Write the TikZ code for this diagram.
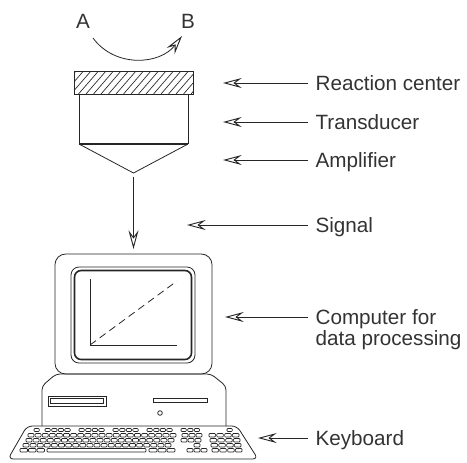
\documentclass[tikz,border=0pt]{standalone}
\usepackage{fontspec}
\setmainfont{Liberation Sans}
\usetikzlibrary{arrows.meta,positioning}

\tikzset{
  ln/.style={line width=0.6pt, draw=black!85},
  arr/.style={ln, -{Stealth[open,length=14pt,width=7.5pt,inset=5pt,line width=0.7pt]}},
  lbl/.style={anchor=west, inner xsep=5.5pt, inner ysep=0pt, text height=10.7pt, text depth=0pt, text=black!80, font=\fontsize{15.5}{18}\selectfont},
  keyst/.style={line width=0.5pt, draw=black!85, rounded corners=0.7pt}
}

\begin{document}
\begin{tikzpicture}[x=0.75pt,y=-0.75pt]
\useasboundingbox (0,0) rectangle (467,462);

% reaction A -> B
\node[lbl, anchor=center, inner xsep=0pt] (A) at (83,21) {A};
\node[lbl, anchor=center, inner xsep=0pt] (B) at (188,21) {B};
\coordinate (arcA) at (93,38);
\coordinate (arcB) at (182,36);
\draw[arr] (arcA) .. controls (115,68) and (160,65) .. (arcB);

% sensor
\begin{scope}
\clip (74,71) rectangle (193,94);
\foreach \x in {56,63.5,...,200}
  \draw[line width=0.5pt, black!85] (\x,94) -- ++(20,-23);
\end{scope}
\draw[ln] (74,71) rectangle (193,94);
\draw[ln] (79,94) -- (79,144);
\draw[ln] (188,94) -- (188,144);
\draw[ln, line width=1.3pt] (79,144) -- (188,144);
\draw[ln] (79,144) -- (133.5,173) -- (188,144);

\coordinate (apex) at (133.5,177);
\coordinate (montop) at (133.5,249);
\draw[arr] (apex) -- (montop);

% monitor
\draw[ln, rounded corners=8] (55,254) rectangle (212,374);
\draw[ln, rounded corners=6] (71,267) rectangle (195,363);
\draw[ln, line width=1.2pt, rounded corners=5] (74.5,270.5) rectangle (191.5,359.5);
\draw[ln] (90,279) -- (90,345) -- (177,345);
\draw[ln, dash pattern=on 5.5pt off 3.5pt] (90,345) -- (177,281);

% base unit
\draw[ln, rounded corners=3] (42,426) -- (42,386) -- (56,374) -- (211,374) -- (226,386) -- (226,426);
\draw[ln] (48,396) rectangle (106,406);
\draw[ln, line width=1pt] (50.5,398.5) rectangle (103.5,403.5);
\draw[ln] (153,398.5) rectangle (207,402.5);
\draw[ln] (160,413) circle (2.3);

% keyboard
\draw[ln, rounded corners=4] (8,459) -- (27,426) -- (237,426) -- (258,459) -- cycle;
\foreach \x/\n in {34/1, 45/4, 79/4, 113/4, 147/4, 181/3, 227/1}
  \foreach \k in {1,...,\n}
    \draw[keyst] ({\x+(\k-1)*6.6},428.5) rectangle ++(5.4,3);
\foreach \y/\x in {433.5/28, 438.5/26, 443.5/23}
  \foreach \k in {0,...,20}
    \draw[keyst] ({\x+\k*7.1},\y) rectangle ++(6,3.5);
\foreach \y/\x in {433.5/182, 438.5/181}
  \foreach \k in {0,1,2}
    \draw[keyst] ({\x+\k*7},\y) rectangle ++(6,3.5);
\foreach \y/\x in {433.5/209, 438.5/210, 443.5/211, 448.5/212}
  \foreach \k in {0,...,3}
    \draw[keyst] ({\x+\k*7.8},\y) rectangle ++(6.6,3.5);
\foreach \k in {0,1,2}
  \draw[keyst] ({20+\k*8.5},448.5) rectangle ++(7.5,3.5);
\draw[keyst] (47,448.5) rectangle (146,452);
\foreach \k in {0,1,2}
  \draw[keyst] ({149+\k*9},448.5) rectangle ++(8,3.5);
\draw[keyst] (194,443.5) rectangle ++(6,3.5);
\foreach \k in {0,1,2}
  \draw[keyst] ({187+\k*7},448.5) rectangle ++(6,3.5);

% labels
\node[lbl] (rc) at (308,83) {Reaction center};
\node[lbl] (td) at (308,122) {Transducer};
\node[lbl] (amp) at (308,160) {Amplifier};
\node[lbl] (sig) at (308,225) {Signal};
\node[lbl] (comp) at (308,317) {Computer for};
\node[lbl, below right=5pt and 0pt of comp.south west] (comp2) {data processing};
\node[lbl] (kb) at (308,438) {Keyboard};

\draw[arr] (rc.west) -- ++(-85,0);
\draw[arr] (td.west) -- ++(-85,0);
\draw[arr] (amp.west) -- ++(-85,0);
\draw[arr] (sig.west) -- ++(-121,0);
\draw[arr] (comp.west) -- ++(-83,0);
\draw[arr] (kb.west) -- ++(-50,0);
\end{tikzpicture}
\end{document}
